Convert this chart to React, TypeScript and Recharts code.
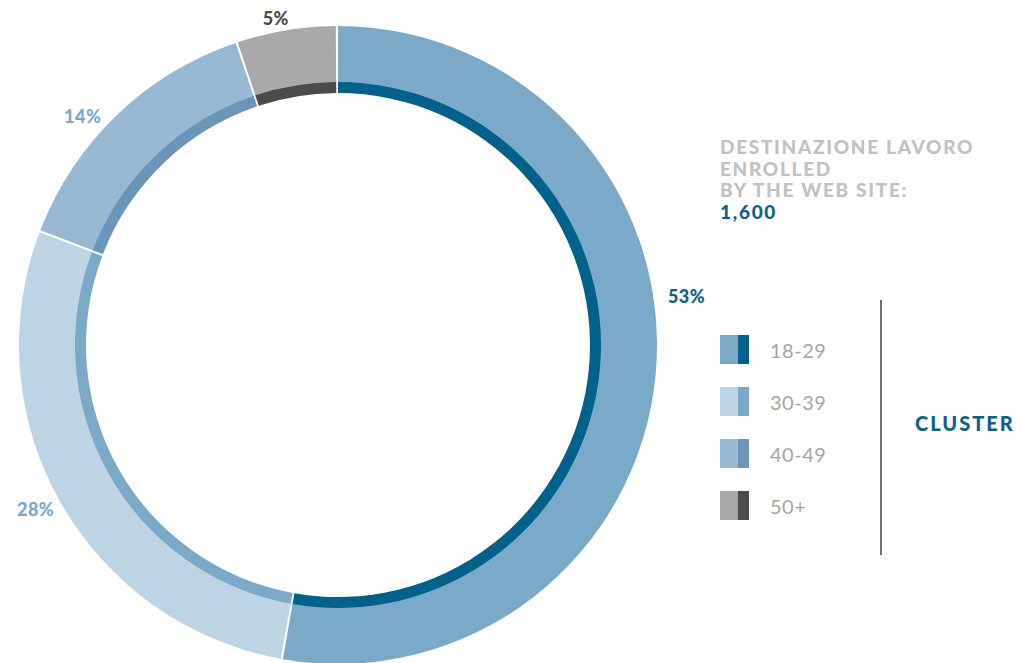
import { PieChart, Pie, Cell, Legend } from 'recharts';

// age clusters, clockwise from the top
const clusters = ['18-29', '30-39', '40-49', '50+'];
const shares = [53, 28, 14, 5];

const outerColors = ['#7aaac8', '#bdd4e4', '#97b9d3', '#a9a9ab'];
const innerColors = ['#00628a', '#7aaac8', '#6a97b8', '#4b4a4c'];
const labelColors = ['#0b6284', '#7aaac8', '#7aaac8', '#4b4a4c'];

const titleLines = ['DESTINAZIONE LAVORO', 'ENROLLED', 'BY THE WEB SITE:'];
const totalEnrolled = '1,600';

const data = clusters.map((name, i) => ({ name, value: shares[i] }));

const FONT = 'Lato, "Open Sans", sans-serif';
const CX = 338;
const CY = 345;

// label tweaks so the percentages sit where the original puts them
const labelAngleShift = [13, -1.0, 4.3, 1.4];
const labelRadius = [352, 344, 343, 333];

const RADIAN = Math.PI / 180;

function renderLabel(props: any) {
  const { cx, cy, midAngle, index, value } = props;
  const a = (midAngle + labelAngleShift[index]) * RADIAN;
  const r = labelRadius[index];
  const x = cx + r * Math.cos(a);
  const y = cy - r * Math.sin(a);
  return (
    <text
      x={x}
      y={y}
      textAnchor="middle"
      dominantBaseline="central"
      fill={labelColors[index]}
      style={{ fontFamily: FONT, fontWeight: 900, fontSize: 18, letterSpacing: 0.5 }}
    >
      {value}%
    </text>
  );
}

function ClusterLegend() {
  return (
    <div style={{ fontFamily: FONT }}>
      {clusters.map((name, i) => (
        <div
          key={name}
          style={{ display: 'flex', alignItems: 'center', height: 29, marginBottom: 23 }}
        >
          <div style={{ width: 18, height: 29, background: outerColors[i] }} />
          <div style={{ width: 11, height: 29, background: innerColors[i] }} />
          <span style={{ marginLeft: 21, fontSize: 20, color: '#a6a6a6', letterSpacing: 0.5 }}>
            {name}
          </span>
        </div>
      ))}
    </div>
  );
}

export default function App() {
  return (
    <div
      style={{
        position: 'absolute',
        left: 0,
        top: 0,
        width: 1021,
        height: 663,
        background: '#ffffff',
        overflow: 'hidden',
        fontFamily: FONT,
      }}
    >
      <PieChart width={1021} height={663} margin={{ top: 0, right: 0, bottom: 0, left: 0 }}>
        <Pie
          data={data}
          dataKey="value"
          cx={CX}
          cy={CY}
          startAngle={90}
          endAngle={-270}
          innerRadius={252}
          outerRadius={264}
          paddingAngle={0.4}
          stroke="none"
          isAnimationActive={false}
        >
          {data.map((d, i) => (
            <Cell key={d.name} fill={innerColors[i]} />
          ))}
        </Pie>
        <Pie
          data={data}
          dataKey="value"
          cx={CX}
          cy={CY}
          startAngle={90}
          endAngle={-270}
          innerRadius={263}
          outerRadius={319}
          paddingAngle={0.4}
          stroke="none"
          label={renderLabel}
          labelLine={false}
          isAnimationActive={false}
        >
          {data.map((d, i) => (
            <Cell key={d.name} fill={outerColors[i]} />
          ))}
        </Pie>
        <Legend
          layout="vertical"
          content={() => <ClusterLegend />}
          wrapperStyle={{ position: 'absolute', left: 720, top: 335, width: 150 }}
        />
      </PieChart>

      <div
        style={{
          position: 'absolute',
          left: 720,
          top: 136,
          fontWeight: 900,
          fontSize: 19,
          lineHeight: '21.5px',
          letterSpacing: 1.7,
          color: '#c1c1c3',
        }}
      >
        {titleLines.map((t) => (
          <div key={t}>{t}</div>
        ))}
        <div style={{ color: '#0b6284' }}>{totalEnrolled}</div>
      </div>

      <div
        style={{
          position: 'absolute',
          left: 880,
          top: 300,
          width: 2,
          height: 255,
          background: '#737373',
        }}
      />

      <div
        style={{
          position: 'absolute',
          left: 915,
          top: 411,
          fontWeight: 900,
          fontSize: 20,
          letterSpacing: 2,
          color: '#0b6284',
        }}
      >
        CLUSTER
      </div>
    </div>
  );
}
